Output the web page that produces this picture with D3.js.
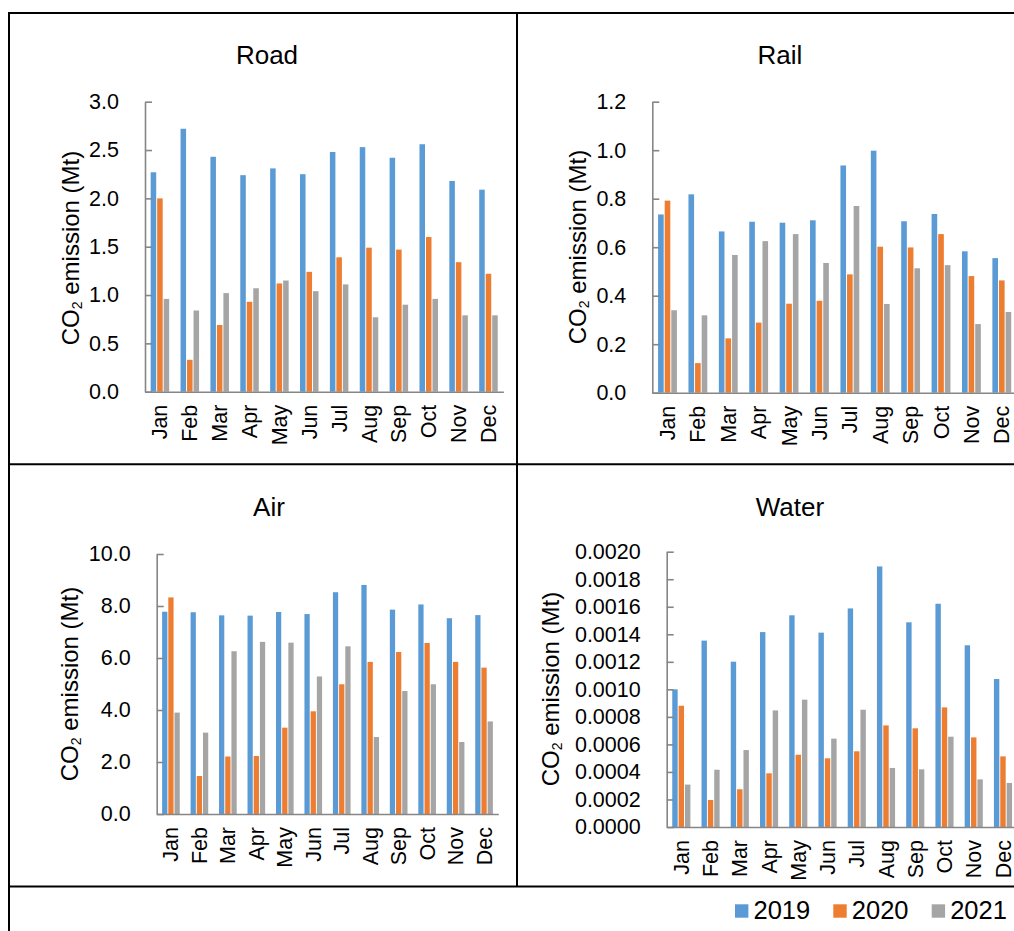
<!DOCTYPE html>
<html lang="en">
<head>
    <meta charset="utf-8">
    <title>CO2 emission by transport mode</title>
    <script src="https://d3js.org/d3.v7.min.js" charset="utf-8"></script>
    <style>
        body { margin: 0; background: #fff; }
        text { font-family: "Liberation Sans", Arial, sans-serif; fill: #000; }
    </style>
</head>
<body>

    <script>

    // data
    var months = ["Jan","Feb","Mar","Apr","May","Jun","Jul","Aug","Sep","Oct","Nov","Dec"]
    var years = ["2019","2020","2021"]
    var colors = ["#5b9bd5","#ed7d31","#a5a5a5"]

    var road2019 = [2.27,2.72,2.43,2.24,2.31,2.25,2.48,2.53,2.42,2.56,2.18,2.09]
    var road2020 = [2.00,0.33,0.69,0.93,1.12,1.24,1.39,1.49,1.47,1.60,1.34,1.22]
    var road2021 = [0.96,0.84,1.02,1.07,1.15,1.04,1.11,0.77,0.90,0.96,0.79,0.79]

    var rail2019 = [0.735,0.818,0.665,0.705,0.701,0.711,0.937,0.998,0.707,0.737,0.583,0.555]
    var rail2020 = [0.792,0.122,0.224,0.289,0.367,0.379,0.488,0.602,0.599,0.654,0.481,0.463]
    var rail2021 = [0.340,0.319,0.568,0.625,0.654,0.535,0.770,0.366,0.513,0.526,0.283,0.333]

    var air2019 = [7.78,7.76,7.64,7.63,7.77,7.69,8.53,8.81,7.86,8.06,7.53,7.65]
    var air2020 = [8.33,1.46,2.21,2.23,3.32,3.95,4.99,5.85,6.23,6.58,5.85,5.63]
    var air2021 = [3.90,3.13,6.26,6.62,6.59,5.29,6.45,2.96,4.73,4.99,2.77,3.56]

    var water2019 = [0.00100,0.001354,0.001201,0.001416,0.001538,0.001412,0.001588,0.001893,0.001487,0.001622,0.001320,0.001075]
    var water2020 = [0.000881,0.000196,0.000274,0.000390,0.000525,0.000499,0.000550,0.000738,0.000717,0.000869,0.000651,0.000513]
    var water2021 = [0.000308,0.000416,0.000559,0.000847,0.000925,0.000642,0.000852,0.000429,0.000419,0.000656,0.000346,0.000320]

    var roadTicks = [0,0.5,1.0,1.5,2.0,2.5,3.0]
    var railTicks = [0,0.2,0.4,0.6,0.8,1.0,1.2]
    var airTicks = [0,2,4,6,8,10]
    var waterTicks = [0,0.0002,0.0004,0.0006,0.0008,0.0010,0.0012,0.0014,0.0016,0.0018,0.0020]

    var w = 1014
    var h = 931

    var svg = d3.select("body").append("svg").attr("width",w).attr("height",h)
    svg.append("rect").attr("width",w).attr("height",h).attr("fill","#fff")

    // panel frames (table borders)
    var frame = svg.append("g").attr("stroke","#000").attr("stroke-width",2)
    frame.append("line").attr("x1",9).attr("y1",13).attr("x2",w).attr("y2",13)
    frame.append("line").attr("x1",9).attr("y1",12).attr("x2",9).attr("y2",h)
    frame.append("line").attr("x1",517).attr("y1",13).attr("x2",517).attr("y2",886.5)
    frame.append("line").attr("x1",9).attr("y1",464.3).attr("x2",w).attr("y2",464.3)
    frame.append("line").attr("x1",9).attr("y1",886.5).attr("x2",w).attr("y2",886.5)

    var panels = [
        {title:"Road", series:[road2019,road2020,road2021], ticks:roadTicks, fmt:d3.format(".1f"),
         left:145, top:101.7, bottom:391.7, right:503.4, titleX:267, titleY:64, labelX:79, labelY:248},
        {title:"Rail", series:[rail2019,rail2020,rail2021], ticks:railTicks, fmt:d3.format(".1f"),
         left:652.3, top:101.7, bottom:392.7, right:1017, titleX:780, titleY:64, labelX:585.5, labelY:247},
        {title:"Air", series:[air2019,air2020,air2021], ticks:airTicks, fmt:d3.format(".1f"),
         left:156.7, top:554, bottom:814, right:498.3, titleX:269, titleY:515.7, labelX:77.5, labelY:684},
        {title:"Water", series:[water2019,water2020,water2021], ticks:waterTicks, fmt:d3.format(".4f"),
         left:666.7, top:551.7, bottom:827, right:1017.6, titleX:790, titleY:515.7, labelX:558.5, labelY:689}
    ]

    function buildPanel(p) {

        var g = svg.append("g")

        var x0 = d3.scaleBand().domain(months).range([p.left,p.right]).paddingInner(0.38).paddingOuter(0.19)
        var x1 = d3.scaleBand().domain(years).range([0,x0.bandwidth()]).paddingInner(0.15)
        var y = d3.scaleLinear().domain([0,d3.max(p.ticks)]).range([p.bottom,p.top])

        g.append("text").attr("x",p.titleX).attr("y",p.titleY).attr("text-anchor","middle")
            .style("font-size","26px").text(p.title)

        years.forEach(function(yr, i) {
            g.append("g").selectAll("rect").data(p.series[i]).join("rect")
                .attr("x",function(d,j){return x0(months[j]) + x1(yr)})
                .attr("y",function(d){return y(d)})
                .attr("width",x1.bandwidth())
                .attr("height",function(d){return y(0) - y(d)})
                .attr("fill",colors[i])
        })

        var yAxis = d3.axisLeft(y).tickValues(p.ticks).tickFormat(p.fmt).tickSizeInner(-7).tickSizeOuter(0).tickPadding(26)
        var ya = g.append("g").attr("transform","translate(" + p.left + ",0)").call(yAxis)
        ya.selectAll("path,line").attr("stroke","#868686").attr("stroke-width",1.6)
        ya.selectAll("text").style("font-size","21.5px").attr("fill","#000")

        var xAxis = d3.axisBottom(x0).tickSize(0).tickSizeOuter(0)
        var xa = g.append("g").attr("transform","translate(0," + p.bottom + ")").call(xAxis)
        xa.select("path").attr("stroke","#868686").attr("stroke-width",1.6)
        xa.selectAll("text").style("font-size","21.5px").attr("fill","#000")
            .attr("transform","rotate(-90)").attr("x",-13).attr("y",0).attr("dy","0.35em")
            .style("text-anchor","end")
        ya.raise()

        var lab = g.append("text").attr("transform","translate(" + p.labelX + "," + p.labelY + ") rotate(-90)")
            .attr("text-anchor","middle").style("font-size","24px")
        lab.append("tspan").text("CO")
        lab.append("tspan").attr("dy",3).style("font-size","14px").text("2")
        lab.append("tspan").attr("dy",-3).text(" emission (Mt)")
    }

    panels.forEach(function(p) {
        buildPanel(p)
    })

    // legend
    var legX = [735,833.3,931.7]
    var leg = svg.append("g")
    years.forEach(function(yr, i) {
        leg.append("rect").attr("x",legX[i]).attr("y",904.3).attr("width",13.4).attr("height",13.4).attr("fill",colors[i])
        leg.append("text").attr("x",legX[i] + 18.5).attr("y",919).style("font-size","25.5px").text(yr)
    })

    </script>

</body>
</html>
